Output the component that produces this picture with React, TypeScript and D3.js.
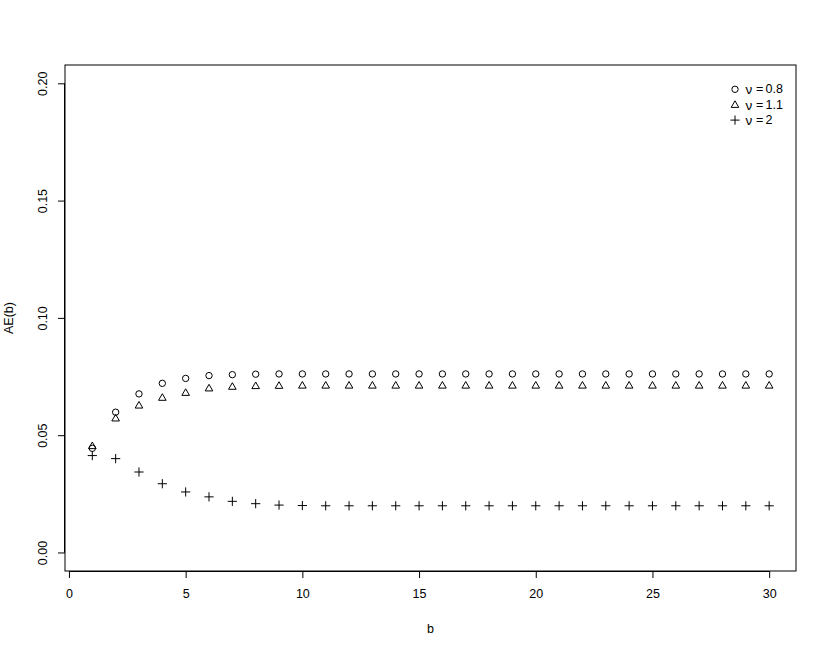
import React, { useEffect, useRef } from "react";
import * as d3 from "d3";

const bValues = [1, 2, 3, 4, 5, 6, 7, 8, 9, 10, 11, 12, 13, 14, 15, 16, 17, 18, 19, 20, 21, 22, 23, 24, 25, 26, 27, 28, 29, 30];

const nu08 = [0.0444, 0.0598, 0.0676, 0.0721, 0.0742, 0.0754, 0.0758, 0.076, 0.0761, 0.0761, 0.0761, 0.0761, 0.0761, 0.0761, 0.0761, 0.0761, 0.0761, 0.0761, 0.0761, 0.0761, 0.0761, 0.0761, 0.0761, 0.0761, 0.0761, 0.0761, 0.0761, 0.0761, 0.0761, 0.0761];
const nu11 = [0.0452, 0.057, 0.0625, 0.0658, 0.0679, 0.0698, 0.0705, 0.0708, 0.0709, 0.071, 0.071, 0.071, 0.071, 0.071, 0.071, 0.071, 0.071, 0.071, 0.071, 0.071, 0.071, 0.071, 0.071, 0.071, 0.071, 0.071, 0.071, 0.071, 0.071, 0.071];
const nu2 = [0.0413, 0.04, 0.0343, 0.0293, 0.0258, 0.0237, 0.0218, 0.0208, 0.0202, 0.02, 0.0199, 0.0199, 0.0199, 0.0199, 0.0199, 0.0199, 0.0199, 0.0199, 0.0199, 0.0199, 0.0199, 0.0199, 0.0199, 0.0199, 0.0199, 0.0199, 0.0199, 0.0199, 0.0199, 0.0199];

const xTicks = [0, 5, 10, 15, 20, 25, 30];
const yTicks = [0, 0.05, 0.1, 0.15, 0.2];
const legendValues = ["0.8", "1.1", "2"];

const WIDTH = 830;
const HEIGHT = 653;
const FONT = "'Liberation Sans', Arial, Helvetica, sans-serif";
const FS = 12.5;

const App = () => {
  const svgRef = useRef<SVGSVGElement>(null);

  useEffect(() => {
    const svg = d3.select(svgRef.current);
    svg.selectAll("*").remove();

    const x = d3.scaleLinear().domain([-0.17, 31.15]).range([65, 796]);
    const y = d3.scaleLinear().domain([-0.0079, 0.2078]).range([571, 65]);
    const [x0, x1] = x.range();
    const [y0, y1] = y.range();

    svg
      .append("rect")
      .attr("x", x0)
      .attr("y", y1)
      .attr("width", x1 - x0)
      .attr("height", y0 - y1)
      .attr("fill", "none")
      .attr("stroke", "#000")
      .attr("stroke-width", 1);

    const gx = svg
      .append("g")
      .attr("transform", `translate(0,${y0})`)
      .call(
        d3.axisBottom(x).tickValues(xTicks).tickSize(7).tickPadding(11).tickFormat(d3.format("d"))
      );
    gx.select(".domain").attr("d", `M${x(0)},0.5H${x(30)}`);

    const gy = svg
      .append("g")
      .attr("transform", `translate(${x0},0)`)
      .call(d3.axisLeft(y).tickValues(yTicks).tickSize(7).tickFormat(d3.format(".2f")));
    gy.select(".domain").attr("d", `M-0.5,${y(0)}V${y(0.2)}`);
    gy.selectAll(".tick text")
      .attr("x", 0)
      .attr("dy", null)
      .attr("transform", "translate(-22,0) rotate(-90)")
      .attr("text-anchor", "middle")
      .attr("dominant-baseline", "central");

    svg.selectAll("g").attr("font-family", FONT).attr("font-size", FS);

    svg
      .append("text")
      .attr("x", (x0 + x1) / 2)
      .attr("y", 633)
      .attr("text-anchor", "middle")
      .attr("font-family", FONT)
      .attr("font-size", FS)
      .text("b");

    svg
      .append("text")
      .attr("transform", `translate(13,${(y0 + y1) / 2}) rotate(-90)`)
      .attr("text-anchor", "middle")
      .attr("font-family", FONT)
      .attr("font-size", FS)
      .text("AE(b)");

    const tri = (cx: number, cy: number, r: number) => {
      const xc = r * 0.866;
      return `M${cx},${cy - r}L${cx + xc},${cy + r / 2}L${cx - xc},${cy + r / 2}Z`;
    };
    const plus = (cx: number, cy: number, s: number) =>
      `M${cx - s},${cy}H${cx + s}M${cx},${cy - s}V${cy + s}`;

    const R_CIRC = 3.2;
    const R_TRI = 4.4;
    const S_PLUS = 4.6;

    const pts = svg.append("g");
    pts
      .selectAll("circle")
      .data(bValues)
      .join("circle")
      .attr("cx", (d) => x(d))
      .attr("cy", (d, i) => y(nu08[i]))
      .attr("r", R_CIRC)
      .attr("fill", "none")
      .attr("stroke", "#000");
    pts
      .selectAll("path.tri")
      .data(bValues)
      .join("path")
      .attr("class", "tri")
      .attr("d", (d, i) => tri(x(d), y(nu11[i]), R_TRI))
      .attr("fill", "none")
      .attr("stroke", "#000");
    pts
      .selectAll("path.plus")
      .data(bValues)
      .join("path")
      .attr("class", "plus")
      .attr("d", (d, i) => plus(x(d), y(nu2[i]), S_PLUS))
      .attr("fill", "none")
      .attr("stroke", "#000");

    const legend = svg.append("g");
    const ly = d3.scaleLinear().domain([0, 1]).range([89.3, 104.7]);
    legendValues.forEach((val, i) => {
      const cy = ly(i);
      if (i === 0) {
        legend
          .append("circle")
          .attr("cx", 735)
          .attr("cy", cy)
          .attr("r", R_CIRC)
          .attr("fill", "none")
          .attr("stroke", "#000");
      } else if (i === 1) {
        legend.append("path").attr("d", tri(735, cy + 0.5, R_TRI)).attr("fill", "none").attr("stroke", "#000");
      } else {
        legend.append("path").attr("d", plus(735, cy, S_PLUS)).attr("fill", "none").attr("stroke", "#000");
      }
      const t = legend
        .append("text")
        .attr("y", cy)
        .attr("dominant-baseline", "central")
        .attr("font-family", FONT)
        .attr("font-size", FS);
      t.append("tspan").attr("x", 745.5).attr("font-size", 13.5).text("ν");
      t.append("tspan").attr("x", 756).text("=");
      t.append("tspan").attr("x", 765.5).text(val);
    });
  }, []);

  return (
    <svg
      ref={svgRef}
      width={WIDTH}
      height={HEIGHT}
      style={{ position: "absolute", left: 0, top: 0, background: "#fff" }}
    ></svg>
  );
};

export default App;
